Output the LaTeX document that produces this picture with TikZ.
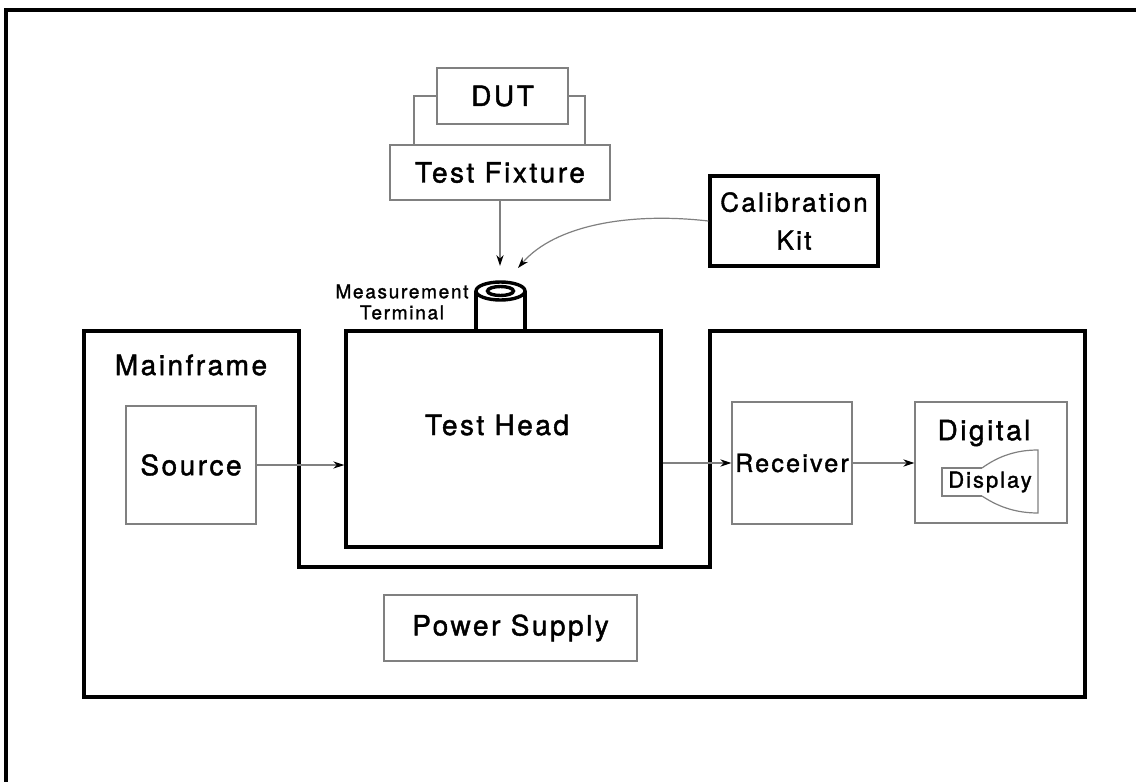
\documentclass[tikz,border=0pt]{standalone}
\usepackage{fontspec}
\setmainfont[LetterSpace=9, BoldFont=TeX Gyre Heros, BoldFeatures={FakeBold=1.5}]{TeX Gyre Heros}
\usetikzlibrary{arrows.meta}

\begin{document}
\begin{tikzpicture}[x=0.5pt,y=-0.5pt,
    thinbox/.style={draw=gray, line width=0.6pt, inner sep=0pt},
    thickbox/.style={draw=black, line width=1.7pt, inner sep=0pt},
    thinline/.style={draw=gray, line width=0.6pt},
    thickline/.style={draw=black, line width=1.7pt},
    lbl/.style={font=\fontsize{14}{19}\selectfont\bfseries},
    >={Stealth[length=5.5pt,width=3.6pt,color=black]}]
    \useasboundingbox (0,0) rectangle (1136,782);

    % Frame
    \draw[thickline] (6,782) -- (6,10) -- (1136,10);

    % Mainframe
    \draw[thickline] (84,331) -- (299,331) -- (299,567) -- (710,567) -- (710,331)
        -- (1085,331) -- (1085,697) -- (84,697) -- cycle;
    \node[lbl] (mainlbl) at (191,365) {Mainframe};

    % Blocks
    \node[thinbox, minimum width=65pt, minimum height=59pt, lbl] (src) at (191,465) {Source};
    \node[thickbox, minimum width=157.5pt, minimum height=108pt] (head) at (503.5,439) {};
    \node[lbl] (headlbl) at (497,425) {Test Head};
    \node[thinbox, minimum width=60pt, minimum height=61pt, lbl, font=\fontsize{12.5}{16}\selectfont\bfseries] (rcv) at (792,463) {Receiver};
    \node[thinbox, minimum width=76pt, minimum height=60.5pt] (dig) at (991,462.5) {};
    \node[lbl] (diglbl) at (984,433) {Digital};
    \node[thinbox, minimum width=126.5pt, minimum height=33pt, lbl] (pwr) at (510.5,628) {Power Supply};

    % DUT et fixture
    \node[thinbox, minimum width=65.5pt, minimum height=28pt, lbl] (dut) at (502.5,96) {DUT};
    \node[thinbox, minimum width=110pt, minimum height=27.5pt, lbl] (fix) at (500,172.5) {Test Fixture};
    \coordinate (wl) at (414,145);
    \coordinate (wr) at (585,145);
    \draw[thinline] (dut.west) -| (wl);
    \draw[thinline] (dut.east) -| (wr);

    % Calibration kit
    \node[thickbox, minimum width=84pt, minimum height=45pt, lbl, font=\fontsize{13}{19}\selectfont\bfseries, align=center] (cal) at (794,221) {Calibration\\Kit};

    % Measurement terminal
    \draw[thickline] (476,291) -- (476,331);
    \draw[thickline] (525,291) -- (525,331);
    \draw[thickline, fill=white] (500.5,291) ellipse (24.5 and 9);
    \draw[thickline] (500.5,291) ellipse (13 and 4.5);
    \node[font=\fontsize{9.5}{10.5}\selectfont\bfseries, align=center] (termlbl) at (402,302) {Measurement\\Terminal};
    \coordinate (termA) at (500,266);
    \coordinate (termB) at (518,268);

    % Arrows
    \draw[thinline, ->] (fix.south) -- (termA);
    \draw[thinline, ->] (cal.west) .. controls (630,212) and (555,225) .. (termB);
    \draw[thinline, ->] (src.east) -- (head.west |- src.east);
    \draw[thinline, ->] (head.east |- rcv.west) -- (rcv.west);
    \draw[thinline, ->] (rcv.east) -- (dig.west |- rcv.east);

    % Display
    \draw[thinline] (982,468) .. controls (1000,455) and (1018,450) .. (1038,450) -- (1038,513)
        .. controls (1018,513) and (1000,508) .. (982,496);
    \draw[thinline] (982,468) -- (942,468) -- (942,496) -- (982,496);
    \node[font=\fontsize{11}{12}\selectfont\bfseries] (displbl) at (990,482) {Display};
\end{tikzpicture}
\end{document}
